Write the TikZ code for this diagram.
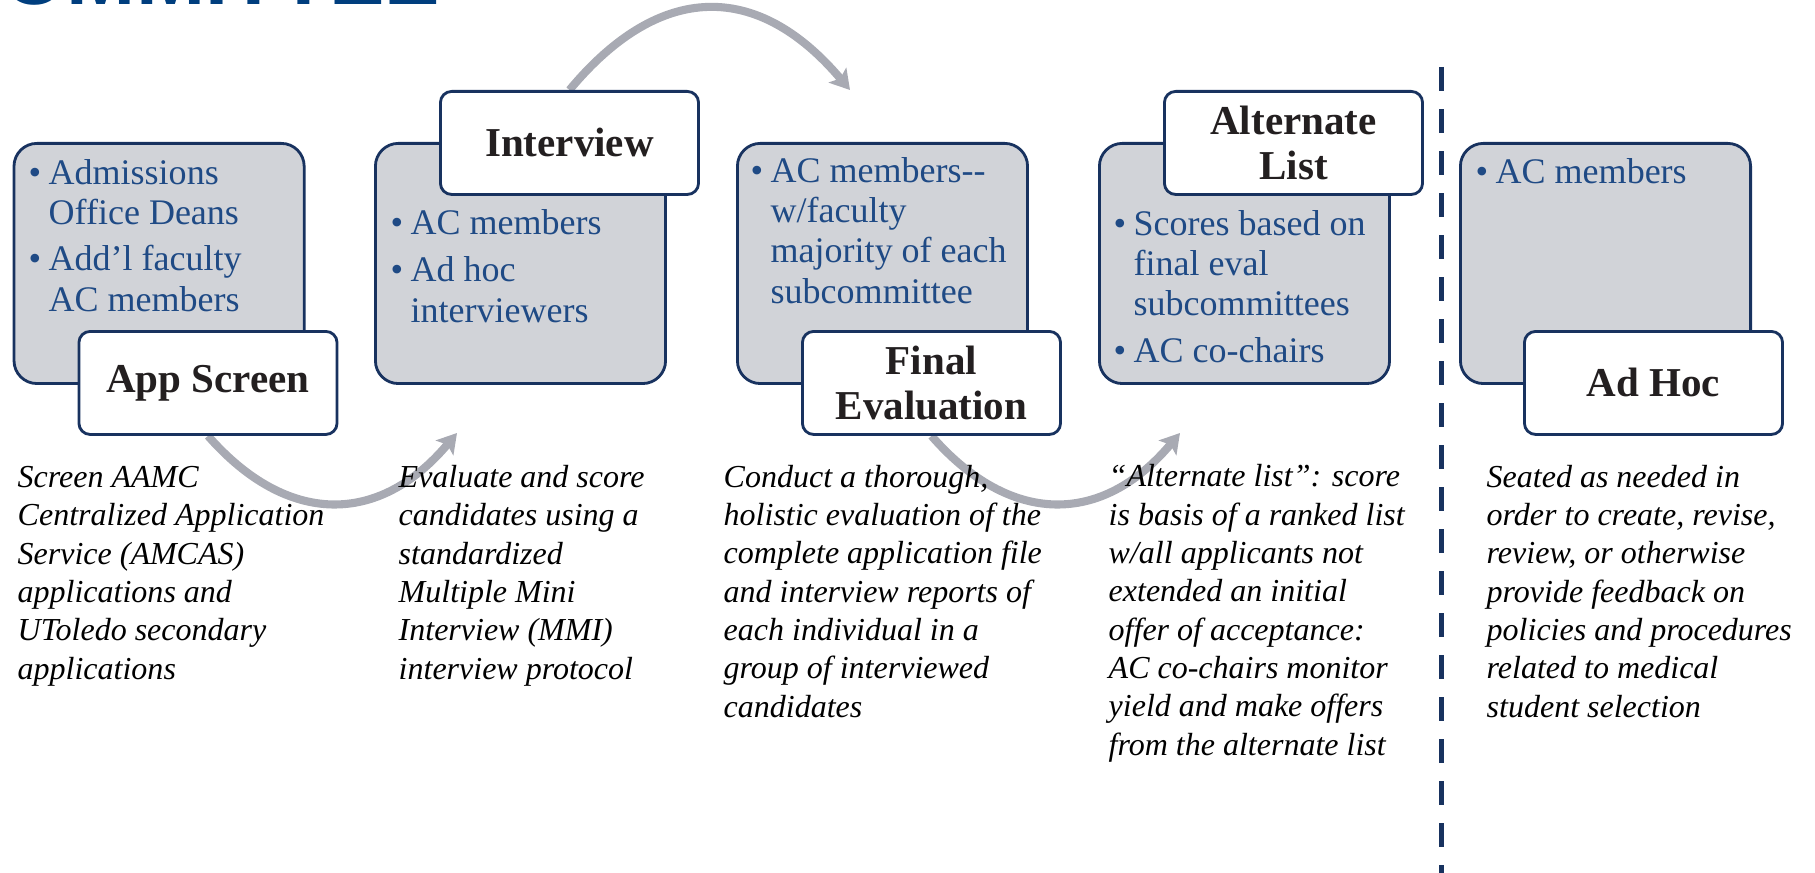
\documentclass[tikz,border=0pt]{standalone}
\usepackage{fontspec}
\setmainfont{Liberation Serif}
\newfontfamily\titlefont{Liberation Sans}
\usetikzlibrary{arrows.meta}
\definecolor{boxgray}{HTML}{D1D3D8}
\definecolor{navy}{HTML}{18325F}
\definecolor{bluetext}{HTML}{1F4A85}
\definecolor{titleblue}{HTML}{003E7E}
\definecolor{arrowgray}{HTML}{A8AAB3}
\definecolor{headtext}{HTML}{231F20}
\pgfdeclarelayer{bg}
\pgfsetlayers{bg,main}
\newlength{\bind}
\setlength{\bind}{5.69pt}
\newcommand{\bitem}{\makebox[\bind][l]{\textbullet}}
\newcommand{\bcont}{\hspace*{\bind}}
\begin{document}
\begin{tikzpicture}[x=0.01cm,y=-0.01cm,
  graybox/.style={draw=navy, line width=0.8pt, fill=boxgray, rounded corners=6.5pt,
    inner sep=0pt, minimum width=2.90cm, minimum height=2.40cm, anchor=north west},
  headbox/.style={draw=navy, line width=0.8pt, fill=white, rounded corners=3.2pt,
    inner sep=0pt, minimum width=2.58cm, minimum height=1.03cm, anchor=north west,
    align=center, text=headtext, font=\fontsize{11.67pt}{12.8pt}\selectfont\bfseries},
  btext/.style={anchor=base west, inner sep=0pt, align=left, text=bluetext,
    font=\fontsize{10.24pt}{11.38pt}\selectfont},
  itext/.style={anchor=base west, inner sep=0pt, align=left, text=black,
    font=\fontsize{9.1pt}{10.9pt}\selectfont\itshape},
  arr/.style={draw=arrowgray, line width=2.3pt, -{Stealth[length=5.5pt,width=6.5pt,inset=1.2pt]}},
  divider/.style={draw=navy, line width=1.42pt, dash pattern=on 6.83pt off 5.12pt}
]
\useasboundingbox (0,0) rectangle (1815,873);
\clip (0,0) rectangle (1815,873);

% title fragment
\node[anchor=base east, inner sep=0pt, text=titleblue,
  font=\titlefont\bfseries\fontsize{23.6pt}{24pt}\selectfont] (title) at (441,5) {COMMITTEE};

% gray boxes
\node[graybox] (g1) at (12.6,142) {};
\node[graybox] (g2) at (374,142) {};
\node[graybox] (g3) at (736,142) {};
\node[graybox] (g4) at (1098,142) {};
\node[graybox] (g5) at (1459,142) {};

% header boxes
\node[headbox] (h1) at (77.5,330) {App Screen};
\node[headbox] (h2) at (439,90) {Interview};
\node[headbox] (h3) at (801,330) {Final\\Evaluation};
\node[headbox] (h4) at (1163,90) {Alternate\\List};
\node[headbox] (h5) at (1523,330) {Ad Hoc};

% box texts (anchored at the baseline of the last line)
\node[btext] (t1) at (28,311) {\bitem Admissions\\ \bcont Office Deans\\[1.8pt] \bitem Add’l faculty\\ \bcont AC members};
\node[btext] (t2) at (390,322) {\bitem AC members\\[2pt] \bitem Ad hoc\\ \bcont interviewers};
\node[btext] (t3) at (750,303) {\bitem AC members-{}-\\ \bcont w/faculty\\ \bcont majority of each\\ \bcont subcommittee};
\node[btext] (t4) at (1113,363) {\bitem Scores based on\\ \bcont final eval\\ \bcont subcommittees\\[2pt] \bitem AC co-chairs};
\node[btext] (t5) at (1475,183) {\bitem AC members};

% italic descriptions (anchored at the baseline of the last line)
\node[itext] (d1) at (17,679) {Screen AAMC\\Centralized Application\\Service (AMCAS)\\applications and\\UToledo secondary\\applications};
\node[itext] (d2) at (398,679) {Evaluate and score\\candidates using a\\standardized\\Multiple Mini\\Interview (MMI)\\interview protocol};
\node[itext] (d3) at (723,717) {Conduct a thorough,\\holistic evaluation of the\\complete application file\\and interview reports of\\each individual in a\\group of interviewed\\candidates};
\node[itext] (d4) at (1108,755) {“Alternate list”: score\\is basis of a ranked list\\w/all applicants not\\extended an initial\\offer of acceptance:\\AC co-chairs monitor\\yield and make offers\\from the alternate list};
\node[itext] (d5) at (1486,717) {Seated as needed in\\order to create, revise,\\review, or otherwise\\provide feedback on\\policies and procedures\\related to medical\\student selection};

% divider
\coordinate (dtop) at (1441,67);
\coordinate (dbot) at (1441,880);
\draw[divider] (dtop) -- (dbot);

% arrows
\coordinate (a1end) at (457,433);
\coordinate (a2end) at (850,90);
\coordinate (a3end) at (1180,433);
\begin{pgfonlayer}{bg}
\draw[arr] (h1.south) .. controls (287,526) and (379,526) .. (a1end);
\draw[arr] (h2.north) .. controls (660,-19) and (758,-19) .. (a2end);
\draw[arr] (h3.south) .. controls (1010,526) and (1102,526) .. (a3end);
\end{pgfonlayer}
\end{tikzpicture}
\end{document}
